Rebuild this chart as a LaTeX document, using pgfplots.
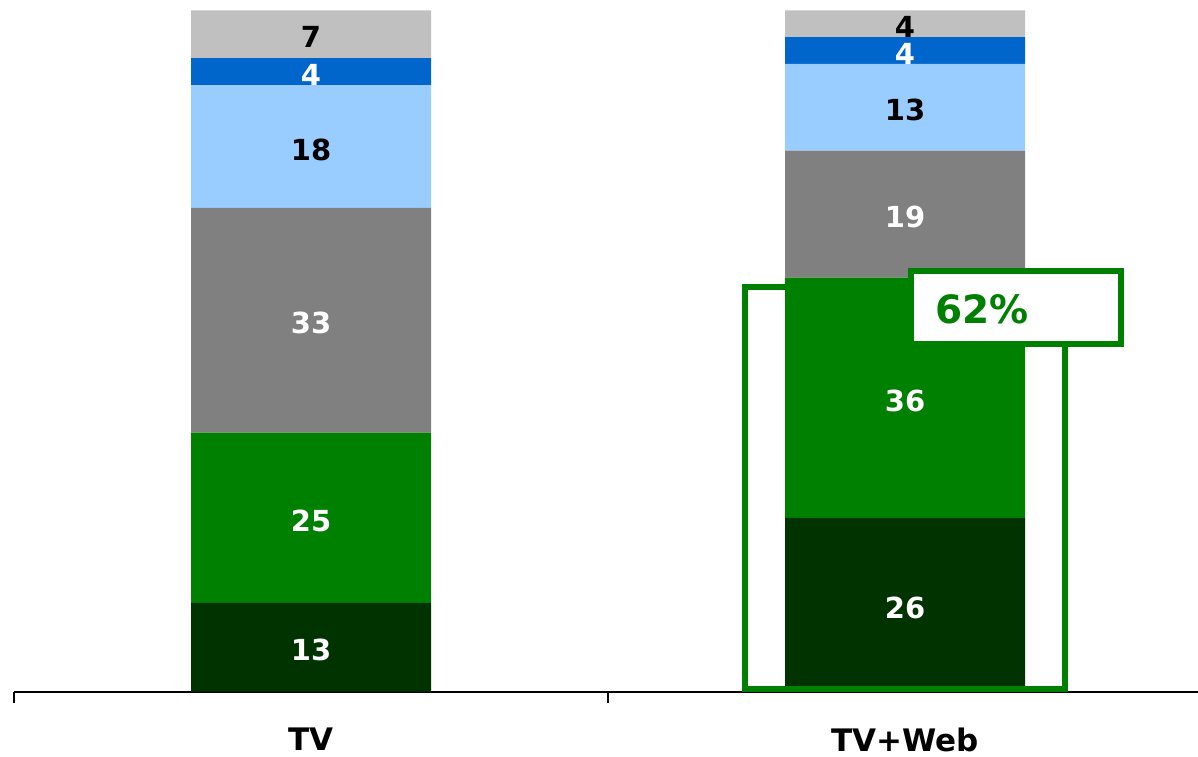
\documentclass[border=0pt]{standalone}
\usepackage{fontspec}
\setmainfont{DejaVu Sans}
\usepackage{pgfplots}
\pgfplotsset{compat=1.18}
\definecolor{cDarkGreen}{HTML}{003300}
\definecolor{cGreen}{HTML}{008000}
\definecolor{cGray}{HTML}{808080}
\definecolor{cLightBlue}{HTML}{99CCFF}
\definecolor{cBlue}{HTML}{0066CC}
\definecolor{cLightGray}{HTML}{C0C0C0}
\pgfplotsset{
  common/.style={
    scale only axis, width=594pt, height=340.5pt,
    at={(7pt,32.25pt)}, anchor=south west,
    xmin=-0.5, xmax=1.5, ymin=0, ymax=100, clip=false,
  }
}
\begin{document}
\begin{tikzpicture}
\useasboundingbox (0,0) rectangle (599pt,378pt);
\begin{axis}[common,
  ybar stacked, bar width=120pt,
  axis y line=none, axis x line*=bottom,
  x axis line style={line width=1pt, black, -},
  xtick={0,1}, xticklabels={TV,TV+Web},
  major tick length=0pt,
  minor xtick={-0.5,0.5}, minor tick length=5.5pt,
  tick align=outside,
  minor tick style={line width=0.8pt, black},
  xticklabel style={font=\fontsize{15.5}{18}\selectfont\bfseries, anchor=north, inner sep=0pt, yshift=-18pt},
]
\addplot[fill=cDarkGreen, draw=none] coordinates {(0,13) (1,25.49)};
\addplot[fill=cGreen, draw=none] coordinates {(0,25) (1,35.29)};
\addplot[fill=cGray, draw=none] coordinates {(0,33) (1,18.63)};
\addplot[fill=cLightBlue, draw=none] coordinates {(0,18) (1,12.75)};
\addplot[fill=cBlue, draw=none] coordinates {(0,4) (1,3.92)};
\addplot[fill=cLightGray, draw=none] coordinates {(0,7) (1,3.92)};
\end{axis}
\begin{axis}[common, hide axis]
\addplot[only marks, mark=none, nodes near coords, point meta=explicit symbolic,
  nodes near coords style={anchor=center, text=white, font=\fontsize{14.5}{17}\selectfont\bfseries, yshift=-1.5pt}]
  table[meta=label] {
x y label
0 6.5 13
0 25.5 25
0 54.5 33
0 91 4
1 12.75 26
1 43.14 36
1 70.10 19
1 94.12 4
};
\addplot[only marks, mark=none, nodes near coords, point meta=explicit symbolic,
  nodes near coords style={anchor=center, text=black, font=\fontsize{14.5}{17}\selectfont\bfseries, yshift=-1.5pt}]
  table[meta=label] {
x y label
0 80 18
0 96.5 7
1 85.79 13
1 98.04 4
};
\draw[cGreen, line width=3pt] (axis cs:0.7306,0.37) rectangle (axis cs:1.2694,59.4);
\draw[cGreen, line width=3pt, fill=white] (axis cs:1.0101,51.03) rectangle (axis cs:1.3636,61.75);
\node[anchor=west, inner sep=0pt, text=cGreen, font=\fontsize{19.5}{24}\selectfont\bfseries] at (axis cs:1.0505,56.17) {62\%};
\end{axis}
\end{tikzpicture}
\end{document}
